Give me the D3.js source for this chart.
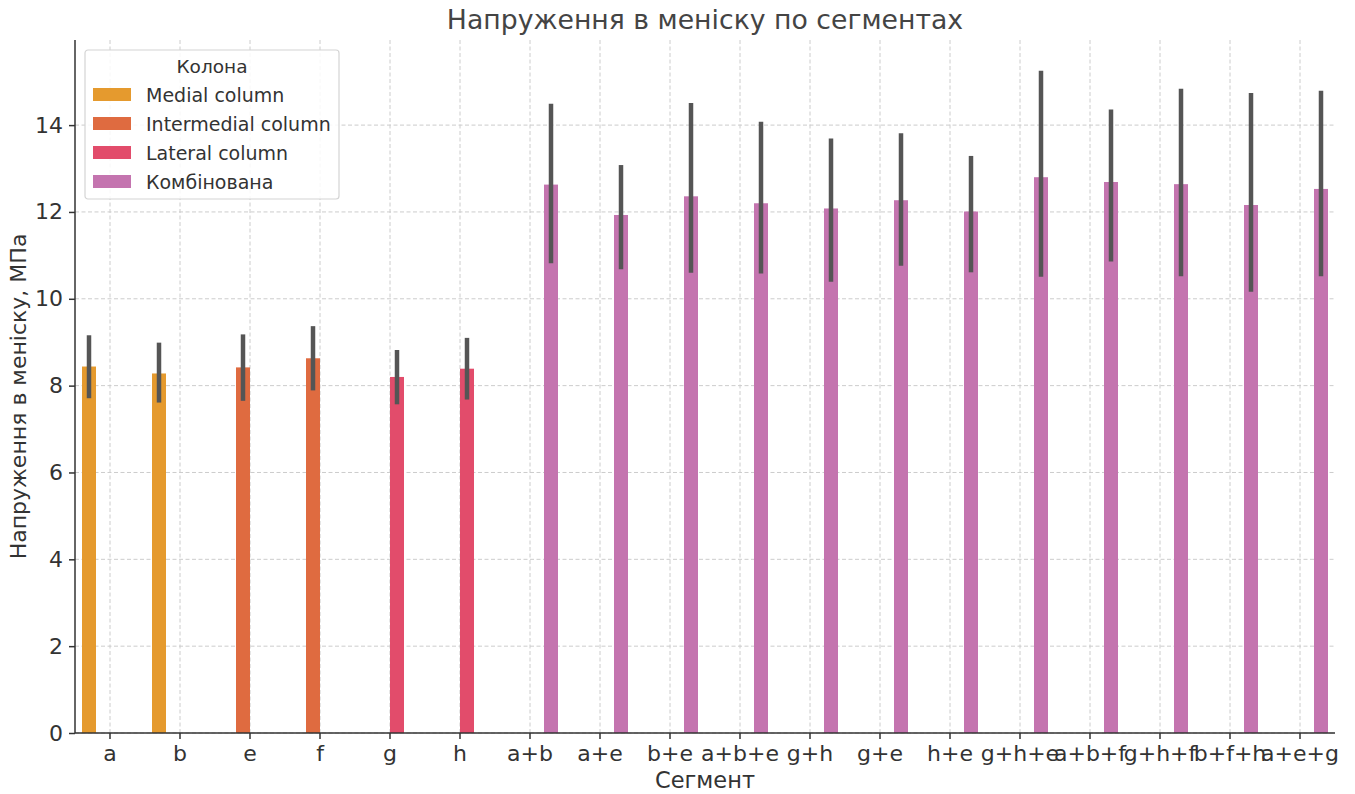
<!DOCTYPE html>
<html>
<head>
<meta charset="utf-8">
<script src="https://cdn.jsdelivr.net/npm/d3@7"></script>
<style>
  body { margin: 0; background: #fff; }
  text { font-family: "DejaVu Sans", sans-serif; }
</style>
</head>
<body>
<div class="chart"></div>
<script>
const segments = ['a', 'b', 'e', 'f', 'g', 'h', 'a+b', 'a+e', 'b+e', 'a+b+e', 'g+h', 'g+e', 'h+e', 'g+h+e', 'a+b+f', 'g+h+f', 'b+f+h', 'a+e+g']
const groups = ['Medial column', 'Medial column', 'Intermedial column', 'Intermedial column', 'Lateral column', 'Lateral column',
  'Комбінована', 'Комбінована', 'Комбінована', 'Комбінована', 'Комбінована', 'Комбінована',
  'Комбінована', 'Комбінована', 'Комбінована', 'Комбінована', 'Комбінована', 'Комбінована']
const means = [8.44, 8.28, 8.42, 8.63, 8.20, 8.39, 12.63, 11.93, 12.36, 12.20, 12.08, 12.27, 12.01, 12.80, 12.69, 12.64, 12.16, 12.53]
const ciLow = [7.71, 7.61, 7.65, 7.89, 7.57, 7.68, 10.82, 10.68, 10.60, 10.58, 10.39, 10.76, 10.61, 10.51, 10.86, 10.52, 10.16, 10.52]
const ciHigh = [9.16, 8.99, 9.18, 9.37, 8.82, 9.10, 14.49, 13.08, 14.51, 14.08, 13.69, 13.81, 13.29, 15.25, 14.36, 14.84, 14.74, 14.79]
const hues = ['Medial column', 'Intermedial column', 'Lateral column', 'Комбінована']
const hueColors = ['#e59a2e', '#df6b40', '#e24c6b', '#c474af']
const yTicks = [0, 2, 4, 6, 8, 10, 12, 14]

const width = 1355
const height = 794
const mLeft = 75, mRight = 1335, mTop = 40, mBottom = 733

var dataset = segments.map((s, i) => ({ seg: s, hue: groups[i], mean: means[i], lo: ciLow[i], hi: ciHigh[i] }))

var xScale = d3.scaleBand().domain(segments).range([mLeft, mRight]).paddingInner(0.2).paddingOuter(0.1)
var hueScale = d3.scaleBand().domain(hues).range([0, xScale.bandwidth()])
var yScale = d3.scaleLinear().domain([0, 15.96]).range([mBottom, mTop])
var color = d3.scaleOrdinal().domain(hues).range(hueColors)

var svg = d3.select('.chart')
  .append('svg')
  .attr('width', width)
  .attr('height', height)

// grid
svg.append('g')
  .selectAll('line')
  .data(segments)
  .enter()
  .append('line')
  .attr('x1', d => xScale(d) + xScale.bandwidth() / 2)
  .attr('x2', d => xScale(d) + xScale.bandwidth() / 2)
  .attr('y1', mTop)
  .attr('y2', mBottom)
  .attr('stroke', '#cccccc')
  .attr('stroke-width', 1)
  .attr('stroke-dasharray', '4,2.5')

svg.append('g')
  .selectAll('line')
  .data(yTicks)
  .enter()
  .append('line')
  .attr('x1', mLeft)
  .attr('x2', mRight)
  .attr('y1', d => yScale(d))
  .attr('y2', d => yScale(d))
  .attr('stroke', '#cccccc')
  .attr('stroke-width', 1)
  .attr('stroke-dasharray', '4,2.5')

// bars
svg.append('g')
  .selectAll('rect')
  .data(dataset)
  .enter()
  .append('rect')
  .attr('x', d => xScale(d.seg) + hueScale(d.hue))
  .attr('y', d => yScale(d.mean))
  .attr('width', hueScale.bandwidth())
  .attr('height', d => yScale(0) - yScale(d.mean))
  .attr('fill', d => color(d.hue))

// error bars
svg.append('g')
  .selectAll('line')
  .data(dataset)
  .enter()
  .append('line')
  .attr('x1', d => xScale(d.seg) + hueScale(d.hue) + hueScale.bandwidth() / 2)
  .attr('x2', d => xScale(d.seg) + hueScale(d.hue) + hueScale.bandwidth() / 2)
  .attr('y1', d => yScale(d.lo))
  .attr('y2', d => yScale(d.hi))
  .attr('stroke', '#555555')
  .attr('stroke-width', 4.5)

// axes
const xAxis = d3.axisBottom(xScale).tickSize(6).tickPadding(6)
const yAxis = d3.axisLeft(yScale).tickValues(yTicks).tickSize(6).tickPadding(6)

var gx = svg.append('g').attr('transform', `translate(0,${mBottom})`).call(xAxis)
var gy = svg.append('g').attr('transform', `translate(${mLeft},0)`).call(yAxis)

;[gx, gy].forEach(g => {
  g.select('.domain').attr('stroke', '#333').attr('stroke-width', 1.5)
  g.selectAll('.tick line').attr('stroke', '#333').attr('stroke-width', 1.5)
  g.selectAll('.tick text').attr('fill', '#333').style('font-size', '22px')
})
gy.select('.domain').attr('d', `M0,${mBottom}V${mTop}`)
gx.select('.domain').attr('d', `M${mLeft},0H${mRight}`)
gx.selectAll('.tick text').attr('dy', '0.72em')

svg.append('text')
  .attr('x', (mLeft + mRight) / 2)
  .attr('y', 29)
  .attr('text-anchor', 'middle')
  .attr('fill', '#444')
  .style('font-size', '26.7px')
  .text('Напруження в меніску по сегментах')

svg.append('text')
  .attr('x', (mLeft + mRight) / 2)
  .attr('y', 788)
  .attr('text-anchor', 'middle')
  .attr('fill', '#333')
  .style('font-size', '22.5px')
  .text('Сегмент')

svg.append('text')
  .attr('transform', `translate(26,${(mTop + mBottom) / 2 + 10}) rotate(-90)`)
  .attr('text-anchor', 'middle')
  .attr('fill', '#333')
  .style('font-size', '22px')
  .text('Напруження в меніску, МПа')

// legend
var legend = svg.append('g').attr('transform', 'translate(85,50)')
legend.append('rect')
  .attr('width', 254)
  .attr('height', 149)
  .attr('rx', 3)
  .attr('fill', '#fff')
  .attr('fill-opacity', 0.85)
  .attr('stroke', '#d4d4d4')
  .attr('stroke-width', 1.2)
legend.append('text')
  .attr('x', 127)
  .attr('y', 23)
  .attr('text-anchor', 'middle')
  .attr('fill', '#333')
  .style('font-size', '18.5px')
  .text('Колона')
hues.forEach((h, i) => {
  legend.append('rect')
    .attr('x', 8)
    .attr('y', 38 + i * 29)
    .attr('width', 38)
    .attr('height', 13)
    .attr('fill', hueColors[i])
  legend.append('text')
    .attr('x', 61)
    .attr('y', 52 + i * 29)
    .attr('fill', '#333')
    .style('font-size', '19px')
    .text(h)
})
</script>
</body>
</html>
